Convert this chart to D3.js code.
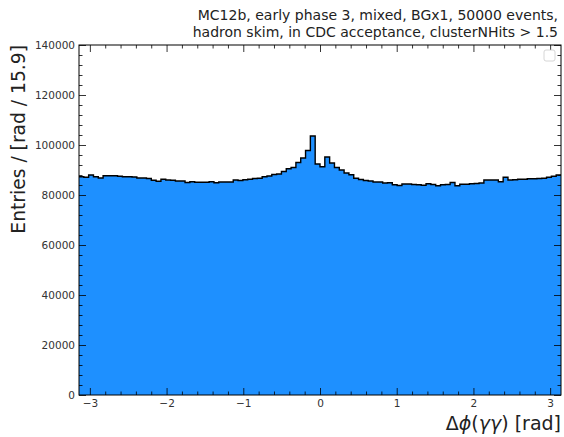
<!DOCTYPE html>
<html>
<head>
<meta charset="utf-8">
<script src="https://cdn.jsdelivr.net/npm/d3@7"></script>
<style>
  body { margin: 0; background: #fff; }
  svg { font-family: "DejaVu Sans", sans-serif; }
</style>
</head>
<body>
<script>
// histogram of delta phi, 100 bins from -pi to pi
var nBins = 100;
var counts = [
  87300, 87100, 88000, 87300, 86800, 87700, 87700, 87700, 87500, 87300,
  87300, 87200, 86800, 86800, 86600, 85900, 85500, 86300, 86000, 85900,
  85600, 85600, 85000, 85300, 85100, 85100, 85100, 85300, 84900, 85200,
  85200, 85200, 86000, 85800, 86100, 86300, 86600, 86700, 87300, 87600,
  88200, 88400, 89400, 90500, 91000, 93000, 94800, 97800, 103600, 92400,
  91300, 95200, 92800, 91000, 90000, 88800, 88100, 86700, 86200, 85800,
  85600, 85200, 85200, 84800, 84900, 84100, 83800, 84400, 84400, 84200,
  84100, 83900, 84500, 84200, 83700, 84100, 84200, 85000, 83700, 84300,
  84300, 84500, 84600, 84800, 86000, 86000, 86000, 85300, 87100, 86000,
  86100, 86300, 86300, 86500, 86500, 86600, 86700, 87100, 87500, 88000
];
var xMajorTicks = [-3, -2, -1, 0, 1, 2, 3];
var yMajorTicks = [0, 20000, 40000, 60000, 80000, 100000, 120000, 140000];
var titleLines = [
  "MC12b, early phase 3, mixed, BGx1, 50000 events,",
  "hadron skim, in CDC acceptance, clusterNHits > 1.5"
];

var width = 564, height = 437;
var margin = { left: 79, right: 3, top: 45, bottom: 42 };
var plotW = width - margin.left - margin.right;
var plotH = height - margin.top - margin.bottom;

var svg = d3.select("body").append("svg")
  .attr("width", width)
  .attr("height", height);

var g = svg.append("g")
  .attr("transform", "translate(" + margin.left + "," + margin.top + ")");

var xScale = d3.scaleLinear().domain([-Math.PI, Math.PI]).range([0, plotW]);
var yScale = d3.scaleLinear().domain([0, 140000]).range([plotH, 0]);

var binW = 2 * Math.PI / nBins;

// step outline points
var pts = [];
counts.forEach(function(c, i) {
  var x0 = -Math.PI + i * binW;
  pts.push([x0, c]);
  pts.push([x0 + binW, c]);
});

var area = d3.area()
  .x(function(d) { return xScale(d[0]); })
  .y0(yScale(0))
  .y1(function(d) { return yScale(d[1]); });

var line = d3.line()
  .x(function(d) { return xScale(d[0]); })
  .y(function(d) { return yScale(d[1]); });

g.append("path")
  .datum(pts)
  .attr("d", area)
  .attr("fill", "#1e90ff");

g.append("path")
  .datum(pts)
  .attr("d", line)
  .attr("fill", "none")
  .attr("stroke", "#000")
  .attr("stroke-width", 1.4);

// axes, ticks pointing inward
var xMinor = d3.range(-3.0, 3.01, 0.2).filter(function(v) {
  return Math.abs(v - Math.round(v)) > 1e-6;
});
var yMinor = d3.range(0, 140001, 4000).filter(function(v) { return v % 20000 !== 0; });

function styleAxis(sel) {
  sel.select(".domain").remove();
  sel.selectAll("line").attr("stroke", "#000").attr("stroke-width", 0.8);
  sel.selectAll("text")
    .attr("fill", "#333")
    .style("font-size", "10.5px")
    .style("font-family", "DejaVu Sans, sans-serif");
}

g.append("g")
  .attr("transform", "translate(0," + plotH + ")")
  .call(d3.axisBottom(xScale).tickValues(xMajorTicks).tickSizeInner(-7).tickSizeOuter(0).tickPadding(5)
    .tickFormat(function(d) { return d < 0 ? "\u2212" + Math.abs(d) : d; }))
  .call(styleAxis);
g.append("g")
  .attr("transform", "translate(0," + plotH + ")")
  .call(d3.axisBottom(xScale).tickValues(xMinor).tickSizeInner(-3.5).tickSizeOuter(0).tickFormat(""))
  .call(styleAxis);
g.append("g")
  .call(d3.axisTop(xScale).tickValues(xMajorTicks).tickSizeInner(-7).tickSizeOuter(0).tickFormat(""))
  .call(styleAxis);
g.append("g")
  .call(d3.axisTop(xScale).tickValues(xMinor).tickSizeInner(-3.5).tickSizeOuter(0).tickFormat(""))
  .call(styleAxis);

g.append("g")
  .call(d3.axisLeft(yScale).tickValues(yMajorTicks).tickSizeInner(-7).tickSizeOuter(0).tickPadding(4)
    .tickFormat(d3.format("d")))
  .call(styleAxis);
g.append("g")
  .call(d3.axisLeft(yScale).tickValues(yMinor).tickSizeInner(-3.5).tickSizeOuter(0).tickFormat(""))
  .call(styleAxis);
g.append("g")
  .attr("transform", "translate(" + plotW + ",0)")
  .call(d3.axisRight(yScale).tickValues(yMajorTicks).tickSizeInner(-7).tickSizeOuter(0).tickFormat(""))
  .call(styleAxis);
g.append("g")
  .attr("transform", "translate(" + plotW + ",0)")
  .call(d3.axisRight(yScale).tickValues(yMinor).tickSizeInner(-3.5).tickSizeOuter(0).tickFormat(""))
  .call(styleAxis);

// frame
g.append("rect")
  .attr("width", plotW)
  .attr("height", plotH)
  .attr("fill", "none")
  .attr("stroke", "#000")
  .attr("stroke-width", 1);

// empty legend box
g.append("rect")
  .attr("x", plotW - 17)
  .attr("y", 5)
  .attr("width", 11)
  .attr("height", 11)
  .attr("rx", 2)
  .attr("fill", "#fff")
  .attr("stroke", "#ccc")
  .attr("stroke-width", 0.8);

// labels
svg.append("text")
  .attr("transform", "translate(25," + margin.top + ") rotate(-90)")
  .attr("text-anchor", "end")
  .style("font-size", "18.7px")
  .attr("fill", "#222")
  .text("Entries / [rad / 15.9]");

var xl = svg.append("text")
  .attr("x", width - margin.right)
  .attr("y", 430)
  .attr("text-anchor", "end")
  .style("font-size", "19px")
  .attr("fill", "#222");
xl.append("tspan").text("\u0394");
xl.append("tspan").style("font-style", "italic").text("\u03d5");
xl.append("tspan").text("(");
xl.append("tspan").style("font-style", "italic").text("\u03b3\u03b3");
xl.append("tspan").text(") [rad]");

svg.selectAll(".title")
  .data(titleLines)
  .enter().append("text")
  .attr("class", "title")
  .attr("x", width - margin.right - 3)
  .attr("y", function(d, i) { return 20 + i * 16.5; })
  .attr("text-anchor", "end")
  .style("font-size", "14px")
  .attr("fill", "#222")
  .text(function(d) { return d; });
</script>
</body>
</html>
